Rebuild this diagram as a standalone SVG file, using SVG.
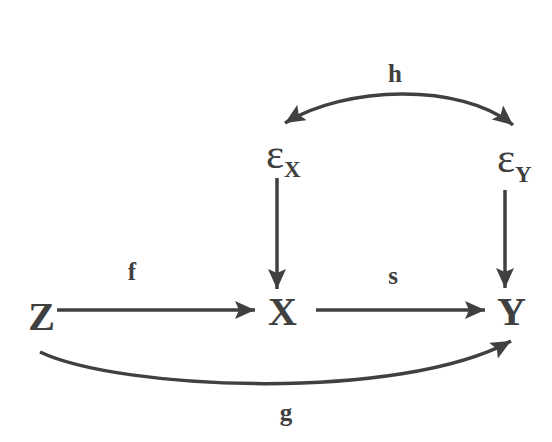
<svg xmlns="http://www.w3.org/2000/svg" width="552" height="442" viewBox="0 0 552 442">
<defs>
<style>
.t{font-family:"Liberation Serif","Times New Roman",serif;font-weight:bold;fill:#404040}
.big{font-size:40px;text-anchor:middle}
.lbl{font-size:25px;text-anchor:middle}
.eps{font-size:43px;text-anchor:middle;font-weight:normal}
.sub{font-size:23px}
.c{fill:none;stroke:#404040;stroke-width:3.5}
</style>
<marker id="ah" markerUnits="userSpaceOnUse" markerWidth="20" markerHeight="18" refX="20" refY="9" orient="auto-start-reverse" viewBox="0 0 20 18">
<path d="M0,0 L20,9 L0,18 L4,9 z" fill="#404040"/>
</marker>
</defs>
<rect width="552" height="442" fill="#ffffff"/>
<g id="connectors">
<path id="f" class="c" d="M57,310 L255,310" marker-end="url(#ah)"/>
<path id="s" class="c" d="M316,310 L485,310" marker-end="url(#ah)"/>
<path id="ex-x" class="c" d="M277,178 L277,289" marker-end="url(#ah)"/>
<path id="ey-y" class="c" d="M505,190 L505,288" marker-end="url(#ah)"/>
<path id="g" class="c" d="M40,352 C120,390 400,402 511,341" marker-end="url(#ah)"/>
<path id="h" class="c" d="M285,123 C345,86 460,82 513,125" marker-start="url(#ah)" marker-end="url(#ah)"/>
</g>
<g id="labels">
<text class="t lbl" x="132" y="280">f</text>
<text class="t lbl" x="393" y="284">s</text>
<text class="t lbl" x="286" y="421">g</text>
<text class="t lbl" x="395" y="82">h</text>
</g>
<g id="node-Z"><text class="t big" x="41.5" y="330">Z</text></g>
<g id="node-X"><text class="t big" x="282.5" y="325">X</text></g>
<g id="node-Y"><text class="t big" x="511.5" y="325">Y</text></g>
<g id="node-eX"><text class="t eps" x="275" y="168">ε</text><text class="t sub" x="284" y="177">X</text></g>
<g id="node-eY"><text class="t eps" x="506" y="172">ε</text><text class="t sub" x="515" y="182">Y</text></g>
</svg>
